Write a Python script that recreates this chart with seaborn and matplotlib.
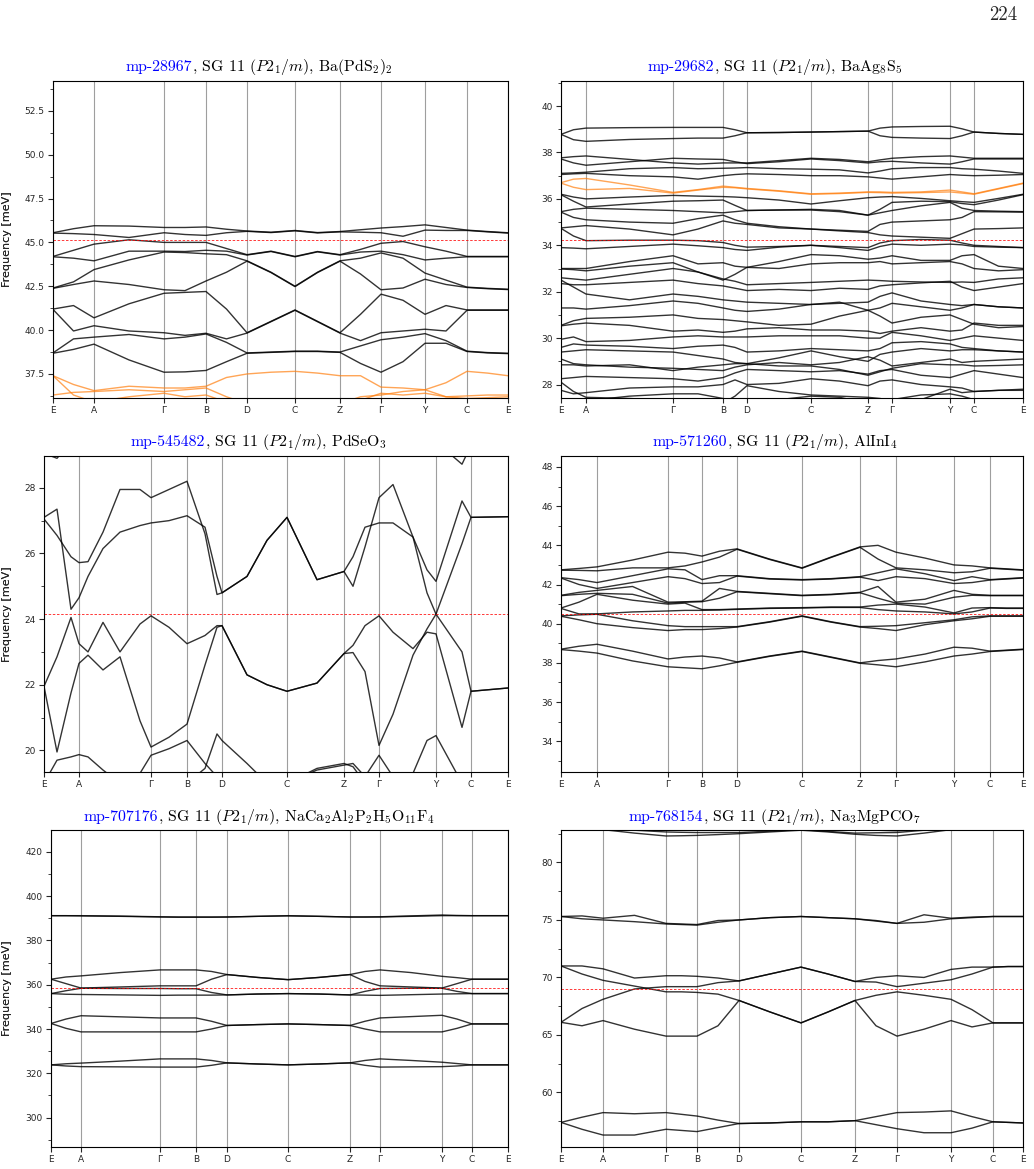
import numpy as np
import pandas as pd
import matplotlib
matplotlib.use("Agg")
import matplotlib.pyplot as plt
import seaborn as sns
from matplotlib.ticker import AutoMinorLocator, MultipleLocator

sns.set_style("ticks")
plt.rcParams["font.family"] = "DejaVu Sans"
plt.rcParams["mathtext.fontset"] = "cm"

W, H = 1034, 1169
kpath_labels = ["E", "A", "Γ", "B", "D", "C", "Z", "Γ", "Y", "C", "E"]

# ---------------- panel 1 : mp-28967 Ba(PdS2)2
ticks_p1 = [0, 41, 111, 153, 194, 242, 287, 328, 372, 414, 455]
# frequencies at each k sample (high-symmetry points and segment midpoints), sorted
freq_by_k_p1 = [
    [45.55, 45.53, 44.2, 44.18, 42.4, 42.38, 41.2, 41.18, 38.7, 38.68],
    [45.78, 45.5, 44.55, 44.1, 42.75, 42.6, 41.4, 39.95, 39.5, 38.9],
    [45.95, 45.45, 44.9, 43.95, 43.45, 42.8, 40.7, 40.25, 39.6, 39.2],
    [45.93, 45.28, 45.15, 44.5, 44.0, 42.6, 41.5, 39.95, 39.75, 38.3],
    [45.85, 45.55, 45.0, 44.5, 44.45, 42.3, 42.1, 39.85, 39.5, 37.6],
    [45.85, 45.45, 45.0, 44.48, 44.42, 42.25, 42.15, 39.7, 39.6, 37.62],
    [45.88, 45.4, 45.0, 44.55, 44.35, 42.8, 42.2, 39.82, 39.78, 37.7],
    [45.75, 45.55, 44.65, 44.5, 44.3, 43.3, 41.2, 39.5, 39.3, 38.2],
    [45.65, 45.63, 44.3, 44.28, 43.95, 43.93, 39.85, 39.83, 38.7, 38.68],
    [45.58, 45.56, 44.5, 44.48, 43.3, 43.28, 40.5, 40.48, 38.75, 38.73],
    [45.68, 45.66, 44.2, 44.18, 42.5, 42.48, 41.15, 41.13, 38.8, 38.78],
    [45.56, 45.54, 44.48, 44.46, 43.3, 43.28, 40.5, 40.48, 38.8, 38.78],
    [45.62, 45.6, 44.3, 44.28, 43.95, 43.93, 39.85, 39.83, 38.75, 38.73],
    [45.72, 45.58, 44.6, 44.45, 44.1, 43.2, 40.9, 39.4, 39.1, 38.1],
    [45.82, 45.55, 44.95, 44.5, 44.4, 42.3, 42.05, 39.85, 39.45, 37.6],
    [45.9, 45.35, 45.05, 44.3, 44.1, 42.4, 41.7, 39.95, 39.6, 38.2],
    [46.0, 45.7, 44.75, 44.0, 43.25, 42.9, 40.9, 40.05, 39.8, 39.25],
    [45.85, 45.68, 44.5, 44.1, 42.85, 42.6, 41.4, 39.95, 39.4, 39.25],
    [45.7, 45.68, 44.2, 44.18, 42.45, 42.43, 41.15, 41.13, 38.8, 38.78],
    [45.62, 45.6, 44.2, 44.18, 42.38, 42.36, 41.15, 41.13, 38.72, 38.7],
    [45.55, 45.53, 44.2, 44.18, 42.33, 42.31, 41.15, 41.13, 38.68, 38.66],
]
orange_p1 = [
    [37.4, 36.9, 36.55, 36.8, 36.7, 36.7, 36.8, 37.3, 37.5, 37.6, 37.65, 37.55, 37.4, 37.4, 36.75, 36.7, 36.6, 37.0, 37.65, 37.55, 37.4],
    [36.3, 36.45, 36.5, 36.6, 36.5, 36.6, 36.7, 36.2, 35.8, 35.8, 36.1, 35.8, 35.8, 36.0, 36.4, 36.3, 36.4, 36.2, 36.25, 36.3, 36.3],
    [37.4, 36.3, 35.9, 36.2, 36.4, 36.2, 36.3, 35.9, 35.8, 35.8, 35.8, 35.8, 35.8, 36.2, 36.3, 36.5, 36.6, 36.2, 36.1, 36.15, 36.2],
]

# ---------------- panel 2 : mp-29682 BaAg8S5
ticks_p2 = [0, 25, 112, 162, 186, 250, 307, 331, 389, 413, 462]
bands_p2 = [
    [38.78, 38.98, 39.05, 39.07, 39.08, 39.08, 39.08, 38.98, 38.85, 38.86, 38.88, 38.9, 38.92, 39.05, 39.1, 39.12, 39.13, 39.02, 38.88, 38.82, 38.78],
    [38.78, 38.55, 38.48, 38.56, 38.6, 38.62, 38.62, 38.72, 38.85, 38.86, 38.88, 38.9, 38.92, 38.72, 38.65, 38.62, 38.6, 38.72, 38.88, 38.82, 38.78],
    [37.77, 37.82, 37.85, 37.7, 37.55, 37.5, 37.55, 37.55, 37.55, 37.65, 37.75, 37.7, 37.6, 37.68, 37.75, 37.82, 37.85, 37.8, 37.75, 37.75, 37.75],
    [37.72, 37.55, 37.45, 37.6, 37.75, 37.72, 37.7, 37.6, 37.52, 37.6, 37.72, 37.65, 37.55, 37.6, 37.62, 37.55, 37.5, 37.6, 37.72, 37.72, 37.72],
    [37.1, 37.12, 37.15, 37.3, 37.35, 37.3, 37.32, 37.33, 37.35, 37.3, 37.28, 37.25, 37.12, 37.2, 37.3, 37.35, 37.35, 37.3, 37.28, 37.2, 37.1],
    [37.05, 37.08, 37.1, 37.0, 36.95, 36.85, 37.0, 37.05, 37.08, 37.05, 37.0, 37.0, 36.95, 36.9, 36.85, 36.95, 37.05, 37.02, 37.0, 37.02, 37.05],
    [36.2, 36.08, 36.0, 36.08, 36.15, 36.12, 36.1, 36.08, 36.05, 35.95, 35.78, 35.92, 36.05, 36.08, 36.1, 36.02, 35.92, 35.88, 35.85, 36.02, 36.2],
    [36.18, 35.9, 35.65, 35.78, 35.9, 35.92, 35.95, 35.72, 35.5, 35.52, 35.55, 35.5, 35.3, 35.55, 35.85, 35.9, 35.88, 35.8, 35.75, 35.95, 36.18],
    [35.45, 35.55, 35.6, 35.55, 35.5, 35.45, 35.4, 35.45, 35.5, 35.52, 35.52, 35.45, 35.3, 35.4, 35.5, 35.7, 35.85, 35.6, 35.5, 35.47, 35.45],
    [35.43, 35.2, 35.1, 35.0, 34.95, 35.15, 35.3, 35.1, 34.95, 34.8, 34.7, 34.65, 34.6, 34.9, 35.0, 35.05, 35.1, 35.2, 35.45, 35.44, 35.43],
    [34.75, 34.8, 34.85, 34.7, 34.45, 34.7, 35.05, 34.95, 34.9, 34.75, 34.7, 34.62, 34.55, 34.45, 34.4, 34.35, 34.3, 34.5, 34.7, 34.72, 34.75],
    [34.73, 34.4, 34.2, 34.22, 34.22, 34.2, 34.12, 34.0, 33.92, 33.95, 34.0, 33.95, 33.9, 34.1, 34.2, 34.25, 34.22, 34.1, 34.0, 33.95, 33.9],
    [33.9, 33.88, 33.85, 33.95, 34.05, 33.98, 33.9, 33.82, 33.78, 33.92, 34.0, 33.9, 33.78, 33.95, 34.05, 34.0, 34.05, 34.02, 33.95, 33.92, 33.9],
    [33.0, 33.0, 33.0, 33.3, 33.55, 33.2, 33.25, 33.1, 33.05, 33.3, 33.6, 33.55, 33.4, 33.45, 33.55, 33.35, 33.35, 33.55, 33.6, 33.1, 33.0],
    [32.98, 32.95, 32.9, 33.1, 33.25, 32.85, 32.5, 32.75, 33.05, 33.0, 33.2, 33.25, 33.25, 33.3, 33.2, 33.25, 33.3, 33.2, 33.0, 32.9, 32.95],
    [32.6, 32.55, 32.5, 32.75, 33.0, 32.85, 32.55, 32.45, 32.3, 32.35, 32.4, 32.45, 32.5, 32.48, 32.45, 32.42, 32.4, 32.42, 32.4, 32.55, 32.6],
    [32.35, 32.3, 32.3, 32.4, 32.5, 32.35, 32.25, 32.15, 32.05, 32.1, 32.05, 32.15, 32.1, 32.25, 32.3, 32.38, 32.45, 32.2, 32.05, 32.2, 32.35],
    [32.5, 32.2, 31.9, 31.65, 31.9, 31.8, 31.65, 31.6, 31.55, 31.5, 31.45, 31.5, 31.55, 31.8, 31.95, 31.6, 31.45, 31.4, 31.45, 31.35, 31.3],
    [31.3, 31.3, 31.25, 31.4, 31.6, 31.5, 31.3, 31.2, 31.15, 31.25, 31.45, 31.55, 31.2, 31.3, 31.5, 31.35, 31.2, 31.3, 31.45, 31.35, 31.3],
    [30.55, 30.75, 30.85, 30.9, 31.0, 30.85, 30.8, 30.75, 30.7, 30.55, 30.6, 30.95, 31.2, 30.95, 30.65, 30.9, 31.0, 30.8, 30.6, 30.45, 30.5],
    [30.53, 30.6, 30.65, 30.55, 30.3, 30.35, 30.25, 30.3, 30.4, 30.45, 30.35, 30.35, 30.3, 30.2, 30.3, 30.45, 30.3, 30.35, 30.65, 30.55, 30.55],
    [29.95, 30.05, 29.85, 29.9, 30.05, 30.1, 30.05, 30.05, 30.05, 30.1, 30.1, 30.1, 30.0, 30.0, 30.25, 30.1, 29.9, 30.0, 30.1, 30.0, 29.9],
    [29.6, 29.75, 29.7, 29.65, 29.55, 29.65, 29.7, 29.6, 29.4, 29.45, 29.55, 29.5, 29.45, 29.55, 29.8, 29.85, 29.75, 29.6, 29.55, 29.45, 29.4],
    [29.4, 29.45, 29.5, 29.45, 29.4, 29.25, 29.1, 28.95, 28.9, 29.15, 29.45, 29.2, 29.0, 29.3, 29.4, 29.55, 29.45, 29.5, 29.5, 29.45, 29.4],
    [29.1, 28.9, 28.85, 28.75, 28.7, 28.65, 28.6, 28.75, 28.85, 28.95, 28.85, 28.95, 29.2, 29.05, 28.8, 28.95, 29.1, 28.95, 29.0, 29.05, 29.1],
    [28.85, 28.85, 28.8, 28.85, 28.6, 28.75, 28.85, 28.9, 28.9, 28.8, 28.8, 28.65, 28.4, 28.55, 28.7, 28.9, 28.85, 28.85, 28.8, 28.82, 28.85],
    [28.25, 28.3, 28.35, 28.3, 28.25, 28.15, 28.3, 28.5, 28.65, 28.6, 28.55, 28.6, 28.45, 28.6, 28.65, 28.4, 28.3, 28.45, 28.6, 28.45, 28.3],
    [27.75, 27.6, 27.65, 27.85, 27.9, 27.9, 28.0, 28.2, 28.0, 28.05, 28.25, 28.15, 27.95, 28.15, 28.2, 28.0, 27.9, 27.85, 27.7, 27.75, 27.75],
    [28.1, 27.7, 27.45, 27.4, 27.3, 27.25, 27.2, 27.5, 27.95, 27.7, 27.55, 27.5, 27.45, 27.4, 27.3, 27.35, 27.8, 27.65, 27.7, 27.75, 27.8],
    [27.3, 27.3, 27.3, 27.5, 27.6, 27.6, 27.4, 27.3, 27.3, 27.35, 27.5, 27.45, 27.2, 27.3, 27.35, 27.55, 27.6, 27.5, 27.35, 27.3, 27.3],
]
orange_p2 = [
    [36.7, 36.85, 36.88, 36.6, 36.28, 36.4, 36.55, 36.5, 36.45, 36.35, 36.22, 36.25, 36.3, 36.3, 36.28, 36.3, 36.38, 36.3, 36.22, 36.45, 36.68],
    [36.68, 36.5, 36.4, 36.45, 36.25, 36.38, 36.5, 36.48, 36.43, 36.33, 36.2, 36.23, 36.28, 36.27, 36.25, 36.27, 36.3, 36.25, 36.2, 36.43, 36.66],
]

# ---------------- panel 3 : mp-545482 PdSeO3 (own k samples, read at features)
ticks_p3 = [0, 35, 107, 143, 178, 243, 300, 335, 392, 427, 464]
k_p3 = [0, 13, 27, 35, 44, 59, 76, 96, 107, 125, 143, 161, 173, 178, 203, 223, 243,
        273, 300, 309, 321, 335, 349, 369, 383, 392, 418, 427, 464]
bands_p3 = [
    [29.05, 28.9, 29.4, 29.5, 29.5, 29.5, 29.5, 29.5, 29.5, 29.5, 29.5, 29.5, 29.5, 29.5, 29.5, 29.5, 29.5,
     29.5, 29.5, 29.5, 29.5, 29.5, 29.5, 29.5, 29.5, 29.4, 28.72, 29.3, 29.4],
    [27.05, 26.55, 25.9, 25.72, 25.75, 26.65, 27.95, 27.95, 27.7, 27.95, 28.2, 26.6, 24.75, 24.8, 25.3, 26.4, 27.1,
     25.2, 25.45, 25.0, 26.2, 27.7, 28.1, 26.5, 24.8, 24.15, 23.0, 21.8, 21.9],
    [27.1, 27.35, 24.3, 24.65, 25.3, 26.15, 26.65, 26.85, 26.93, 27.0, 27.15, 26.8, 25.3, 24.8, 25.3, 26.4, 27.1,
     25.2, 25.45, 25.9, 26.8, 26.93, 26.93, 26.5, 25.5, 25.15, 27.6, 27.1, 27.12],
    [21.95, 22.85, 24.05, 23.25, 23.0, 23.9, 23.0, 23.85, 24.1, 23.75, 23.25, 23.5, 23.8, 23.8, 22.3, 22.0, 21.8,
     22.05, 22.95, 23.2, 23.8, 24.1, 23.6, 23.1, 23.6, 23.55, 20.7, 21.8, 21.9],
    [21.95, 19.95, 21.75, 22.65, 22.9, 22.45, 22.85, 20.9, 20.1, 20.4, 20.8, 22.6, 23.75, 23.8, 22.3, 22.0, 21.8,
     22.05, 22.95, 22.98, 22.4, 20.15, 21.1, 22.9, 23.7, 24.15, 26.3, 27.1, 27.12],
    [19.0, 19.7, 19.8, 19.87, 19.8, 19.4, 19.0, 19.3, 19.85, 20.05, 20.3, 19.6, 19.2, 19.0, 19.0, 19.0, 19.0,
     19.4, 19.55, 19.6, 19.2, 19.85, 19.2, 19.3, 20.3, 20.45, 19.0, 19.0, 19.0],
    [19.0, 19.0, 19.0, 19.0, 19.0, 19.0, 19.0, 19.0, 19.0, 19.0, 19.0, 19.45, 20.5, 20.3, 19.6, 19.0, 19.0,
     19.45, 19.6, 19.5, 19.0, 19.0, 19.0, 19.0, 19.0, 19.0, 19.0, 19.0, 19.0],
]

# ---------------- panel 4 : mp-571260 AlInI4
ticks_p4 = [0, 36, 107, 141, 176, 241, 299, 335, 393, 429, 462]
freq_by_k_p4 = [
    [42.75, 42.73, 42.35, 42.33, 41.45, 41.43, 40.8, 40.78, 40.4, 40.38, 38.7, 38.68],
    [42.82, 42.72, 42.25, 42.0, 41.6, 41.5, 41.1, 40.5, 40.45, 40.2, 38.85, 38.6],
    [42.9, 42.7, 42.1, 41.8, 41.7, 41.55, 41.5, 40.5, 40.48, 40.0, 38.95, 38.5],
    [43.25, 42.85, 42.45, 42.1, 41.9, 41.5, 41.2, 40.6, 40.15, 39.8, 38.6, 38.1],
    [43.65, 42.85, 42.8, 42.4, 41.1, 41.05, 41.0, 40.65, 39.9, 39.65, 38.2, 37.8],
    [43.6, 42.95, 42.75, 42.3, 41.12, 41.1, 41.05, 40.68, 39.85, 39.7, 38.3, 37.75],
    [43.45, 43.15, 42.25, 42.05, 41.15, 41.12, 40.72, 40.68, 39.85, 39.7, 38.35, 37.7],
    [43.7, 43.4, 42.45, 42.1, 41.8, 41.3, 40.72, 40.7, 39.85, 39.75, 38.25, 37.85],
    [43.82, 43.8, 42.45, 42.43, 41.65, 41.63, 40.75, 40.73, 39.85, 39.83, 38.05, 38.03],
    [43.3, 43.28, 42.3, 42.28, 41.55, 41.53, 40.8, 40.78, 40.1, 40.08, 38.35, 38.33],
    [42.85, 42.83, 42.25, 42.23, 41.45, 41.43, 40.82, 40.8, 40.4, 40.38, 38.6, 38.58],
    [43.4, 43.38, 42.3, 42.28, 41.5, 41.48, 40.85, 40.83, 40.1, 40.08, 38.3, 38.28],
    [43.92, 43.9, 42.4, 42.38, 41.6, 41.58, 40.85, 40.83, 39.85, 39.83, 38.0, 37.98],
    [44.0, 43.3, 42.6, 42.2, 41.9, 41.3, 40.95, 40.72, 39.87, 39.75, 38.12, 37.9],
    [43.65, 42.85, 42.8, 42.4, 41.1, 41.05, 41.0, 40.65, 39.9, 39.65, 38.2, 37.8],
    [43.35, 42.75, 42.55, 42.3, 41.25, 41.0, 40.85, 40.6, 40.05, 39.95, 38.45, 38.05],
    [43.0, 42.6, 42.2, 42.05, 41.7, 41.35, 40.55, 40.5, 40.2, 40.15, 38.8, 38.35],
    [42.95, 42.65, 42.4, 42.1, 41.5, 41.45, 40.8, 40.6, 40.35, 40.25, 38.75, 38.45],
    [42.85, 42.83, 42.25, 42.23, 41.45, 41.43, 40.82, 40.8, 40.4, 40.38, 38.6, 38.58],
    [42.8, 42.78, 42.3, 42.28, 41.45, 41.43, 40.8, 40.78, 40.4, 40.38, 38.65, 38.63],
    [42.75, 42.73, 42.35, 42.33, 41.45, 41.43, 40.8, 40.78, 40.4, 40.38, 38.7, 38.68],
]

# ---------------- panel 5 : mp-707176 NaCa2Al2P2H5O11F4
ticks_p5 = [0, 30, 109, 145, 176, 237, 299, 329, 391, 421, 457]
bands_p5 = [
    [391.2, 391.2, 391.2, 391.0, 390.7, 390.6, 390.6, 390.6, 390.6, 390.9, 391.2, 390.9, 390.6, 390.6, 390.7, 391.1, 391.5, 391.3, 391.2, 391.2, 391.2],
    [391.2, 391.2, 391.1, 390.9, 390.6, 390.5, 390.5, 390.5, 390.6, 390.9, 391.1, 390.9, 390.6, 390.6, 390.6, 390.9, 391.2, 391.2, 391.2, 391.2, 391.2],
    [362.5, 363.5, 364.0, 365.5, 366.7, 366.7, 366.7, 366.0, 364.6, 363.3, 362.3, 363.3, 364.6, 366.0, 366.7, 365.5, 363.8, 363.2, 362.5, 362.5, 362.5],
    [362.5, 360.5, 358.5, 359.0, 359.5, 359.5, 359.5, 362.5, 364.6, 363.3, 362.3, 363.3, 364.6, 361.5, 359.5, 359.0, 358.5, 360.5, 362.5, 362.5, 362.5],
    [356.0, 357.3, 358.4, 358.3, 358.3, 358.2, 358.2, 356.5, 355.4, 355.8, 356.0, 355.8, 355.4, 357.0, 358.3, 358.4, 358.4, 357.0, 356.0, 356.0, 356.0],
    [356.0, 355.7, 355.6, 355.4, 355.2, 355.3, 355.3, 355.3, 355.4, 355.8, 356.0, 355.8, 355.4, 355.3, 355.2, 355.5, 355.8, 355.9, 356.0, 356.0, 356.0],
    [342.5, 344.5, 346.0, 345.5, 345.0, 345.0, 345.0, 343.5, 341.6, 342.0, 342.3, 342.0, 341.6, 343.5, 345.0, 345.6, 346.2, 344.5, 342.3, 342.3, 342.3],
    [342.5, 340.3, 338.7, 338.7, 338.7, 338.7, 338.7, 340.0, 341.6, 342.0, 342.3, 342.0, 341.6, 340.0, 338.7, 338.7, 338.7, 340.3, 342.3, 342.3, 342.3],
    [323.8, 324.3, 324.6, 325.5, 326.5, 326.5, 326.5, 325.8, 324.7, 324.2, 323.8, 324.2, 324.7, 325.8, 326.5, 325.8, 325.0, 324.4, 323.8, 323.8, 323.8],
    [323.8, 323.3, 323.0, 322.9, 322.8, 322.8, 322.8, 323.6, 324.7, 324.2, 323.8, 324.2, 324.7, 323.6, 322.8, 322.9, 323.0, 323.3, 323.8, 323.8, 323.8],
]

# ---------------- panel 6 : mp-768154 Na3MgPCO7
ticks_p6 = [0, 42, 105, 136, 178, 240, 294, 336, 390, 432, 462]
bands_p6 = [
    [83.4, 83.2, 83.0, 82.8, 82.65, 82.62, 82.6, 82.6, 82.6, 82.72, 82.85, 82.7, 82.55, 82.58, 82.6, 82.8, 83.1, 83.3, 83.4, 83.4, 83.4],
    [83.3, 83.05, 82.85, 82.55, 82.3, 82.32, 82.35, 82.42, 82.5, 82.65, 82.8, 82.65, 82.45, 82.35, 82.3, 82.55, 82.85, 83.1, 83.3, 83.3, 83.3],
    [83.5, 83.2, 82.95, 82.9, 82.85, 82.87, 82.9, 82.95, 83.0, 83.1, 83.2, 83.05, 82.9, 82.8, 82.75, 82.85, 83.0, 83.3, 83.5, 83.5, 83.5],
    [75.3, 75.35, 75.15, 75.4, 74.7, 74.65, 74.6, 74.95, 75.0, 75.2, 75.3, 75.2, 75.1, 74.9, 74.7, 75.45, 75.15, 75.25, 75.3, 75.3, 75.3],
    [75.3, 75.1, 75.0, 74.85, 74.65, 74.6, 74.55, 74.8, 75.0, 75.2, 75.3, 75.2, 75.1, 74.95, 74.7, 74.8, 75.1, 75.2, 75.3, 75.3, 75.3],
    [71.0, 71.0, 70.75, 69.95, 70.15, 70.15, 70.1, 69.95, 69.7, 70.3, 70.9, 70.3, 69.65, 70.0, 70.15, 70.0, 70.7, 70.9, 70.9, 70.95, 70.95],
    [71.0, 70.3, 69.75, 69.25, 68.75, 68.75, 68.7, 68.55, 68.0, 67.0, 66.05, 67.0, 68.0, 68.45, 68.75, 68.45, 68.1, 67.2, 66.05, 66.05, 66.05],
    [66.1, 67.3, 68.1, 69.0, 69.2, 69.2, 69.2, 69.55, 69.7, 70.3, 70.9, 70.3, 69.65, 69.6, 69.2, 69.5, 69.8, 70.3, 70.9, 70.95, 70.95],
    [66.1, 65.8, 66.25, 65.5, 64.9, 64.9, 64.9, 65.8, 68.0, 67.0, 66.05, 67.0, 68.0, 65.8, 64.9, 65.5, 66.25, 65.7, 66.05, 66.05, 66.05],
    [57.4, 57.85, 58.25, 58.15, 58.25, 58.1, 57.95, 57.6, 57.3, 57.35, 57.45, 57.45, 57.55, 57.9, 58.25, 58.3, 58.4, 57.9, 57.45, 57.4, 57.35],
    [57.4, 56.8, 56.3, 56.3, 56.8, 56.7, 56.6, 56.95, 57.3, 57.35, 57.45, 57.45, 57.55, 57.2, 56.85, 56.5, 56.5, 56.9, 57.45, 57.4, 57.35],
]


def with_midpoints(ticks):
    k = []
    for a, b in zip(ticks[:-1], ticks[1:]):
        k += [a, (a + b) / 2]
    return k + [ticks[-1]]


def long_frame(kgrid, bands):
    rows = []
    for i, band in enumerate(bands):
        for k, f in zip(kgrid, band):
            rows.append((i, k, f))
    return pd.DataFrame(rows, columns=["band", "k", "freq"])


fig = plt.figure(figsize=(W / 100, H / 100), dpi=100)


def draw_panel(box, ticks, kgrid, bands, orange, ylim, ref, step, mp_id, rest, title_cx, title_y):
    l, t, r, b = box
    ax = fig.add_axes([l / W, 1 - b / H, (r - l) / W, (b - t) / H])
    for x in ticks:
        ax.axvline(x, color="0.62", lw=0.8, zorder=0)
    sns.lineplot(data=long_frame(kgrid, bands), x="k", y="freq", units="band",
                 estimator=None, sort=False, color="black", alpha=0.8, lw=1.0,
                 legend=False, ax=ax)
    if orange:
        sns.lineplot(data=long_frame(kgrid, orange), x="k", y="freq", units="band",
                     estimator=None, sort=False, color="#ff7f0e", alpha=0.7, lw=1.0,
                     legend=False, ax=ax)
    ax.axhline(ref, color="red", lw=0.6, ls=(0, (3, 2)), alpha=0.9)
    ax.set_xlim(0, ticks[-1])
    ax.set_ylim(*ylim)
    ax.set_xticks(ticks)
    ax.set_xticklabels(kpath_labels)
    ax.yaxis.set_major_locator(MultipleLocator(step))
    ax.yaxis.set_minor_locator(AutoMinorLocator(2))
    ax.tick_params(labelsize=6.5, length=3.5, width=0.8, pad=2.5)
    ax.tick_params(which="minor", length=2, width=0.6)
    ax.set_xlabel("")
    ax.set_ylabel("Frequency [meV]", fontsize=8)
    ax.yaxis.set_label_coords((12 - l) / (r - l), 0.5)
    for s in ax.spines.values():
        s.set_linewidth(0.8)
        s.set_color("black")

    # title: blue id followed by black text, centred as a whole
    t1 = fig.text(0, 1 - title_y / H, mp_id, color="blue", family="cmr10",
                  fontsize=11.4, va="baseline", ha="left")
    t2 = fig.text(0, 1 - title_y / H, rest, color="black", family="cmr10",
                  fontsize=11.4, va="baseline", ha="left")
    rend = fig.canvas.get_renderer()
    w1 = t1.get_window_extent(rend).width
    w2 = t2.get_window_extent(rend).width
    x0 = title_cx - (w1 + w2) / 2
    t1.set_x(x0 / W)
    t2.set_x((x0 + w1) / W)
    return ax


sg = r", SG 11 ($P2_1/m$), "
draw_panel((53, 81, 508, 398), ticks_p1, with_midpoints(ticks_p1), np.array(freq_by_k_p1).T,
           orange_p1, (36.13, 54.2), 45.13, 2.5, "mp-28967", sg + r"Ba(PdS$_2$)$_2$", 258.7, 71)
draw_panel((561, 81, 1023, 398), ticks_p2, with_midpoints(ticks_p2), bands_p2,
           orange_p2, (27.42, 41.08), 34.23, 2, "mp-29682", sg + r"BaAg$_8$S$_5$", 774.8, 71)
draw_panel((44, 456, 508, 772), ticks_p3, k_p3, bands_p3,
           None, (19.34, 28.97), 24.15, 2, "mp-545482", sg + r"PdSeO$_3$", 258.7, 446)
draw_panel((561, 456, 1023, 772), ticks_p4, with_midpoints(ticks_p4), np.array(freq_by_k_p4).T,
           None, (32.43, 48.56), 40.49, 2, "mp-571260", sg + r"AlInI$_4$", 774.8, 446)
draw_panel((51, 830, 508, 1147), ticks_p5, with_midpoints(ticks_p5), bands_p5,
           None, (286.7, 429.9), 358.3, 20, "mp-707176",
           sg + r"NaCa$_2$Al$_2$P$_2$H$_5$O$_{11}$F$_4$", 258.7, 821)
draw_panel((561, 830, 1023, 1147), ticks_p6, with_midpoints(ticks_p6), bands_p6,
           None, (55.26, 82.82), 68.99, 5, "mp-768154", sg + r"Na$_3$MgPCO$_7$", 774.8, 821)

fig.text(1017 / W, 1 - 19.5 / H, "224", family="cmr10", fontsize=13.5, ha="right", va="baseline")

fig.savefig("out.png", dpi=100)
